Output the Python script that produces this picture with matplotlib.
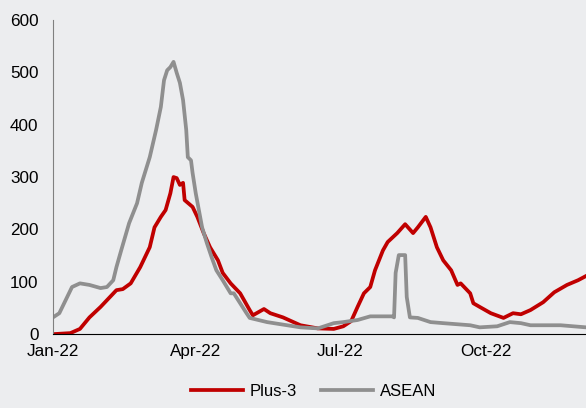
import matplotlib.pyplot as plt
import matplotlib.dates as mdates
import pandas as pd

# Plus-3 series
plus3_dates = ["2022-01-01", "2022-01-12", "2022-01-18", "2022-01-24", "2022-01-31",
               "2022-02-10", "2022-02-14", "2022-02-19", "2022-02-25", "2022-03-03",
               "2022-03-06", "2022-03-10", "2022-03-13", "2022-03-16", "2022-03-18",
               "2022-03-20", "2022-03-22", "2022-03-24", "2022-03-25", "2022-03-30",
               "2022-04-02", "2022-04-06", "2022-04-10", "2022-04-15", "2022-04-18",
               "2022-04-23", "2022-04-29", "2022-05-05", "2022-05-07", "2022-05-14",
               "2022-05-18", "2022-05-26", "2022-06-06", "2022-06-17", "2022-06-27",
               "2022-07-03", "2022-07-08", "2022-07-12", "2022-07-16", "2022-07-20",
               "2022-07-23", "2022-07-28", "2022-07-31", "2022-08-06", "2022-08-11",
               "2022-08-16", "2022-08-19", "2022-08-24", "2022-08-27", "2022-08-31",
               "2022-09-04", "2022-09-09", "2022-09-13", "2022-09-15", "2022-09-21",
               "2022-09-23", "2022-09-27", "2022-10-04", "2022-10-12", "2022-10-18",
               "2022-10-23", "2022-10-29", "2022-11-06", "2022-11-13", "2022-11-21",
               "2022-11-28", "2022-12-03"]
plus3_vals = [0, 2, 10, 32, 52,
              84, 86, 97, 128, 166,
              204, 224, 237, 269, 300,
              298, 285, 289, 256, 243,
              224, 193, 166, 141, 117,
              97, 78, 46, 36, 48,
              40, 32, 17, 11, 10,
              15, 25, 52, 78, 90,
              122, 160, 176, 193, 210,
              193, 204, 224, 204, 166,
              141, 122, 94, 97, 78,
              59, 52, 40, 31, 40,
              38, 46, 61, 80, 94,
              103, 111]

# ASEAN series
asean_dates = ["2022-01-01", "2022-01-05", "2022-01-09", "2022-01-13", "2022-01-18",
               "2022-01-24", "2022-01-31", "2022-02-04", "2022-02-08", "2022-02-10",
               "2022-02-13", "2022-02-18", "2022-02-23", "2022-02-26", "2022-03-03",
               "2022-03-07", "2022-03-10", "2022-03-12", "2022-03-14", "2022-03-16",
               "2022-03-18", "2022-03-20", "2022-03-22", "2022-03-24", "2022-03-26",
               "2022-03-27", "2022-03-29", "2022-03-30", "2022-04-01", "2022-04-05",
               "2022-04-08", "2022-04-11", "2022-04-14", "2022-04-18", "2022-04-23",
               "2022-04-25", "2022-05-03", "2022-05-05", "2022-05-16", "2022-06-06",
               "2022-06-17", "2022-06-27", "2022-07-03", "2022-07-12", "2022-07-20",
               "2022-08-03", "2022-08-04", "2022-08-05", "2022-08-07", "2022-08-11",
               "2022-08-12", "2022-08-14", "2022-08-19", "2022-08-27", "2022-09-04",
               "2022-09-21", "2022-09-27", "2022-10-08", "2022-10-16", "2022-10-23",
               "2022-10-29", "2022-11-17", "2022-12-03"]
asean_vals = [32, 40, 65, 90, 97,
              94, 88, 90, 103, 128,
              160, 212, 250, 289, 338,
              390, 434, 485, 504, 510,
              520, 499, 480, 447, 390,
              338, 332, 308, 269, 204,
              174, 147, 122, 103, 78,
              78, 40, 31, 23, 13,
              11, 21, 23, 27, 34,
              34, 32, 117, 151, 151,
              71, 32, 31, 23, 21,
              17, 13, 15, 23, 21,
              17, 17, 13]

series_names = ["Plus-3", "ASEAN"]
y_ticks = [0, 100, 200, 300, 400, 500, 600]

bg = "#ECEDEF"
plt.rcParams["font.family"] = ["Liberation Sans", "DejaVu Sans"]

fig = plt.figure(figsize=(5.86, 4.08), dpi=100, facecolor=bg)
ax = fig.add_axes([0.0904, 0.181, 0.9096, 0.77])
ax.set_facecolor(bg)

ax.plot(pd.to_datetime(plus3_dates), plus3_vals, color="#C00000", lw=2.7,
        label=series_names[0], solid_joinstyle="round")
ax.plot(pd.to_datetime(asean_dates), asean_vals, color="#8F8F8F", lw=2.7,
        label=series_names[1], solid_joinstyle="round")

ax.set_ylim(0, 600)
ax.set_yticks(y_ticks)
ax.set_xlim(pd.Timestamp("2022-01-01"), pd.Timestamp("2022-12-03"))
ax.xaxis.set_major_locator(mdates.MonthLocator(bymonth=[1, 4, 7, 10]))
ax.xaxis.set_major_formatter(mdates.DateFormatter("%b-%y"))

for s in ["top", "right"]:
    ax.spines[s].set_visible(False)
ax.spines["left"].set_color("#808080")
ax.spines["bottom"].set_color("black")
ax.tick_params(axis="both", length=0, labelsize=12.3, colors="black")
ax.tick_params(axis="y", pad=10.5)
ax.tick_params(axis="x", pad=7)

fig.legend(loc="lower center", bbox_to_anchor=(0.535, -0.014), ncol=2, frameon=False,
           fontsize=12, handlelength=3.1, columnspacing=1.5, handletextpad=0.4)

fig.savefig("out.png", dpi=100, facecolor=bg)
